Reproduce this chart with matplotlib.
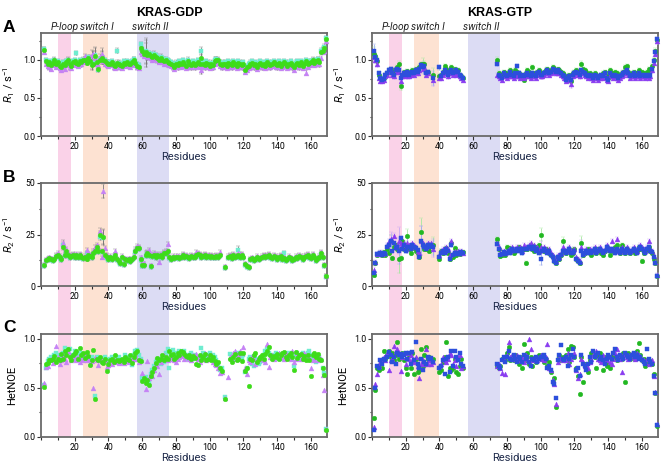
import numpy as np
import matplotlib
matplotlib.use('Agg')
import matplotlib.pyplot as plt
from matplotlib.ticker import MultipleLocator

plt.rcParams['font.family'] = ['Roboto', 'DejaVu Sans']
plt.rcParams['mathtext.fontset'] = 'custom'
plt.rcParams['mathtext.rm'] = 'Roboto'
plt.rcParams['mathtext.it'] = 'Roboto:italic'

NA = float('nan')
res = np.arange(1, 170)

# ---------------- KRAS-GDP ----------------
# R1 (s^-1): violet triangles, green circles, cyan squares
gdp_r1_v = [NA, 1.10, 0.95, 0.92, 0.90, 0.88, 0.93, 0.96, 0.91, 0.94,
            0.89, 0.87, 0.91, 0.88, 0.93, 0.96, 0.90, 0.89, 0.94, 0.95,
            0.93, 0.92, 0.95, 0.94, 0.97, 1.05, 0.98, 1.00, 1.03, 1.06,
            1.08, 1.02, 0.95, 0.93, 1.04, 1.07, 0.98, 0.95, 0.93, 0.92,
            0.93, 0.94, 0.90, 0.89, 0.93, 0.91, 0.90, 0.89, 0.93, 0.92,
            0.94, 0.92, 0.91, 0.94, 0.96, 0.93, 0.90, 0.89, 1.10, 1.08,
            1.05, 1.06, 1.03, 1.04, 1.02, 1.00, 1.03, 1.01, 0.99, 0.97,
            0.99, 0.97, 0.95, 0.96, 0.94, 0.93, 0.92, 0.90, 0.88, 0.91,
            0.90, 0.93, 0.91, 0.94, 0.92, 0.89, 0.95, 0.91, 0.90, 0.93,
            0.90, 0.92, 0.94, 0.91, 0.86, 0.92, 0.90, 0.93, 0.91, 0.89,
            0.91, 0.90, 0.95, 0.97, 0.96, 0.92, 0.90, 0.91, 0.92, 0.89,
            0.93, 0.91, 0.90, 0.94, 0.92, 0.89, 0.93, 0.91, 0.90, 0.92,
            0.84, 0.87, 0.89, 0.91, 0.93, 0.90, 0.92, 0.88, 0.91, 0.93,
            0.90, 0.92, 0.89, 0.94, 0.91, 0.90, 0.92, 0.94, 0.91, 0.90,
            0.93, 0.89, 0.91, 0.94, 0.92, 0.89, 0.91, 0.93, 0.90, 0.87,
            0.91, 0.93, 0.90, 0.94, 0.89, 0.92, 0.83, 0.91, 0.93, 0.94,
            0.96, 0.93, 0.95, 0.97, 0.94, 1.02, 1.10, 1.12, 1.24]
gdp_r1_g = [NA, 1.13, 0.98, 0.95, 0.97, 0.93, 0.96, 0.99, 0.94, 0.97,
            0.92, 0.90, 0.95, 0.93, 0.97, 0.99, 0.94, 0.92, 0.97, 0.98,
            0.96, 0.95, 0.98, 0.97, 0.99, 1.00, 0.96, 1.02, 0.98, 0.93,
            0.95, 1.05, 0.97, 0.88, 1.00, 1.02, 1.00, 0.98, 0.96, 0.94,
            0.95, 0.97, 0.93, 0.92, 0.96, 0.94, 0.93, 0.92, 0.96, 0.95,
            0.97, 0.95, 0.94, 0.97, 1.00, 0.96, 0.92, 0.91, 1.15, 1.12,
            1.08, 1.10, 1.06, 1.07, 1.05, 1.03, 1.06, 1.04, 1.02, 1.00,
            1.02, 1.00, 0.98, 0.99, 0.97, 0.96, 0.95, 0.93, 0.91, 0.94,
            0.93, 0.96, 0.94, 0.97, 0.95, 0.92, 0.98, 0.94, 0.93, 0.96,
            0.93, 0.95, 0.97, 0.94, 1.02, 0.95, 0.93, 0.96, 0.94, 0.92,
            0.94, 0.93, 0.98, 1.00, 0.99, 0.95, 0.93, 0.94, 0.95, 0.92,
            0.96, 0.94, 0.93, 0.97, 0.95, 0.92, 0.96, 0.94, 0.93, 0.95,
            0.87, 0.90, 0.92, 0.94, 0.96, 0.93, 0.95, 0.91, 0.94, 0.96,
            0.93, 0.95, 0.92, 0.97, 0.94, 0.93, 0.95, 0.97, 0.94, 0.93,
            0.96, 0.92, 0.94, 0.97, 0.95, 0.92, 0.94, 0.96, 0.93, 0.90,
            0.94, 0.96, 0.93, 0.97, 0.92, 0.95, 0.98, 0.94, 0.96, 0.97,
            0.99, 0.96, 0.98, 1.00, 0.97, 1.10, 1.12, 1.15, 1.27]
gdp_r1_c = [NA, 1.14, 0.99, 0.97, 0.98, 0.95, 0.98, 1.00, 0.96, 0.98,
            0.94, 0.92, 0.97, 0.95, 0.98, 1.00, 0.96, 0.94, 0.98, 0.99,
            1.09, 0.97, 0.99, 0.98, 1.00, 1.01, 0.97, 1.03, 0.99, 0.95,
            0.97, 1.06, 0.98, 0.87, 1.01, 1.03, 1.01, 0.99, 0.97, 0.96,
            0.97, 0.98, 0.95, 0.94, 1.12, 0.96, 0.95, 0.94, 0.98, 0.97,
            0.98, 0.97, 0.96, 0.98, 1.01, 0.98, 0.94, 0.93, 1.20, 1.14,
            1.10, 1.12, 1.08, 1.09, 1.07, 1.05, 1.08, 1.06, 1.04, 1.02,
            1.04, 1.02, 1.00, 1.01, 0.99, 0.98, 0.97, 0.95, 0.93, 0.96,
            0.95, 0.98, 0.96, 0.99, 0.97, 0.94, 1.00, 0.96, 0.95, 0.98,
            0.95, 0.97, 0.99, 0.96, 1.11, 0.97, 0.95, 0.98, 0.96, 0.94,
            0.96, 0.95, 1.00, 1.01, 1.00, 0.97, 0.95, 0.96, 0.97, 0.94,
            0.98, 0.96, 0.95, 0.98, 0.97, 0.94, 0.98, 0.96, 0.95, 0.97,
            0.89, 0.92, 0.94, 0.96, 0.98, 0.95, 0.97, 0.93, 0.96, 0.98,
            0.95, 0.97, 0.94, 0.98, 0.96, 0.95, 0.97, 0.98, 0.96, 0.95,
            0.98, 0.94, 0.96, 0.98, 0.97, 0.94, 0.96, 0.98, 0.95, 0.92,
            0.96, 0.98, 0.95, 0.98, 0.94, 0.97, 0.99, 0.96, 0.98, 0.98,
            1.00, 0.97, 0.99, 1.01, 0.98, 1.12, 1.13, 1.17, 1.28]

# R2 (s^-1)
gdp_r2_v = [NA, 10.5, 13, 13.5, 14, 13.5, 13, 13.5, 15, 16,
            14.5, 14, 21, 15.5, 18, 16, 14.5, 15, 15.5, 14.5,
            15.5, 14.5, 15.5, 15, 14, 14.5, 17.5, 15.5, 15, 14.5,
            17, 19, 20, 19, 26.5, 14, 46, 18.5, 15, 14,
            14.5, 13.5, 14.5, 17, 13.5, 12.5, 11.5, 14.5, 11, 13.5,
            13, 13.5, 12.5, 13.5, 14.5, 18, 19.5, 19, 14, 10.5,
            11, 16, 16.5, 17.5, 10, 15, 16, 14.5, 15.5, 11.5,
            15.5, 14.5, 16.5, 17, 20.5, 14.5, 13.5, 14.5, 14, 14.5,
            14.5, 14, 14.5, 15.5, 14.5, 15, 14.5, 14, 15, 14.5,
            14.5, 16.5, 16, 15.5, 14.5, 15, 15.5, 14.5, 15, 14.5,
            15, 14.5, 14.5, 15, 14.5, 16.5, NA, NA, 9.5, NA,
            14.5, 15, 14, 15.5, 14.5, 15, 16, 15.5, 15.5, 14.5,
            11, 10, 9.5, 13.5, 14, 13, 13.5, 14.5, 13.5, 14,
            14.5, 15, 14.5, 15, 15.5, 14.5, 14, 15, 14.5, 13.5,
            14.5, 15, 13.5, 14, 13, 13.5, 14.5, 14, 13, 13.5,
            14.5, 14, 15, 14.5, 13.5, 14.5, 15, 15.5, 14.5, 14,
            15.5, 14.5, 13, 14, 14.5, 16.5, 14.5, 10.5, 5]
gdp_r2_g = [NA, 10, 12.5, 13, 13.5, 13, 12.5, 13, 14.5, 15,
            14, 13, 19, 15, 17, 15, 14, 14.5, 15, 14,
            15, 14, 15, 14, 13.5, 14, 13, 15, 14.5, 14,
            16, 17, 19, 17, 25, 17, 24, 15, 14, 13,
            14, 13, 14, 15, 13, 12, 11, 14, 10.5, 13,
            12.5, 13, 12, 13, 14, 17, 18.5, 18.5, 13, 10,
            10, 15, 16, 15, 9.5, 14.5, 15, 14, 15, 14.5,
            15, 14, 16, 16, 17, 14, 13, 14, 13.5, 14,
            14, 13.5, 14, 15, 14, 14.5, 14, 13.5, 14.5, 14,
            14, 15, 15.5, 15, 14, 14.5, 15, 14, 14.5, 14,
            14.5, 14, 14, 14.5, 14, 15, NA, NA, 9, NA,
            14, 14.5, 13.5, 15, 14, 14.5, 15, 14, 15, 14,
            10.5, 9.5, 9, 13, 13.5, 12.5, 13, 14, 13, 13.5,
            14, 14.5, 14, 14.5, 15, 14, 13.5, 14.5, 14, 13,
            14, 14.5, 13, 13.5, 12.5, 13, 14, 13.5, 12.5, 13,
            14, 13.5, 14.5, 14, 13, 14, 14.5, 15, 14, 13.5,
            15, 14, 12.5, 13.5, 14, 16, 14, 10, 5]
gdp_r2_c = [NA, 9.5, 12, 12.5, 13, 12.5, 12, 12.5, 14, 14.5,
            13.5, 12.5, 20, 14.5, 16.5, 14.5, 13.5, 14, 14.5, 13.5,
            14.5, 13.5, 14.5, 13.5, 13, 13.5, 16, 14.5, 14, 13.5,
            15.5, 16.5, 18, 16.5, 24, 16.5, 23.5, 14.5, 13.5, 12.5,
            13.5, 12.5, 13.5, 14.5, 12.5, 11.5, 10.5, 13.5, 10, 12.5,
            12, 12.5, 11.5, 12.5, 13.5, 16.5, 18, 18, 12.5, 9.5,
            9.5, 14.5, 15.5, 14.5, 9, 14, 14.5, 13.5, 14.5, 14,
            14.5, 13.5, 15.5, 15.5, 16.5, 13.5, 12.5, 13.5, 13, 13.5,
            13.5, 13, 13.5, 14.5, 13.5, 14, 13.5, 13, 14, 13.5,
            13.5, 14.5, 15, 14.5, 13.5, 14, 14.5, 13.5, 14, 13.5,
            14, 13.5, 13.5, 14, 13.5, 14.5, NA, NA, 8.5, NA,
            13.5, 14, 13, 14.5, 13.5, 14, 17.5, 13.5, 14.5, 13.5,
            10, 9, 8.5, 12.5, 13, 12, 12.5, 13.5, 12.5, 13,
            13.5, 14, 13.5, 14, 14.5, 13.5, 13, 14, 13.5, 12.5,
            13.5, 14, 12.5, 16, 12, 12.5, 13.5, 13, 12, 12.5,
            13.5, 13, 14, 13.5, 12.5, 13.5, 14, 14.5, 13.5, 13,
            14.5, 13.5, 12, 13, 13.5, 15.5, 13.5, 9.5, 4.5]

# HetNOE
gdp_noe_v = [NA, 0.55, 0.71, 0.72, 0.78, 0.80, 0.75, 0.78, 0.93, 0.82,
             0.74, 0.78, 0.84, 0.80, 0.76, 0.88, 0.84, 0.78, 0.80, 0.82,
             0.78, 0.82, 0.76, 0.80, 0.78, 0.84, 0.78, 0.80, 0.75, 0.77,
             0.50, 0.81, 0.79, 0.73, 0.80, 0.78, 0.77, 0.78, 0.71, 0.73,
             0.75, 0.74, 0.80, 0.76, 0.77, 0.75, 0.76, 0.79, 0.75, 0.77,
             0.79, 0.76, 0.80, 0.78, 0.80, 0.85, 0.80, 0.76, 0.79, 0.65,
             0.58, 0.49, 0.77, 0.60, 0.65, 0.62, 0.68, 0.74, 0.72, 0.64,
             0.76, 0.82, 0.84, 0.80, 0.78, 0.80, 0.82, 0.80, 0.78, 0.76,
             0.80, 0.82, 0.84, 0.83, 0.80, 0.82, 0.84, 0.80, 0.78, 0.84,
             0.82, 0.85, 0.80, 0.76, 0.84, 0.80, 0.86, 0.78, 0.82, 0.80,
             0.84, 0.76, 0.74, 0.73, 0.70, 0.65, 0.66, NA, 0.40, NA,
             0.61, 0.82, 0.80, 0.86, 0.88, 0.80, 0.84, 0.88, 0.86, 0.92,
             0.70, 0.64, 0.78, 0.76, 0.83, 0.80, 0.74, 0.78, 0.82, 0.80,
             0.80, 0.78, 0.76, 0.95, 0.71, 0.82, 0.84, 0.80, 0.82, 0.84,
             0.86, 0.82, 0.84, 0.80, 0.86, 0.84, 0.82, 0.80, 0.88, 0.76,
             0.80, 0.86, 0.84, 0.80, 0.82, 0.86, 0.84, 0.80, 0.82, 0.70,
             0.78, 0.80, 0.84, 0.78, 0.82, 0.80, 0.63, 0.48, 0.08]
gdp_noe_g = [NA, 0.51, 0.74, 0.75, 0.79, 0.78, 0.80, 0.83, 0.76, 0.80,
             0.78, 0.85, 0.80, 0.88, 0.84, 0.90, 0.82, 0.79, 0.84, 0.86,
             0.88, 0.80, 0.91, 0.84, 0.86, 0.81, 0.87, 0.83, 0.73, 0.79,
             0.89, 0.39, 0.80, 0.78, 0.82, 0.76, 0.75, 0.80, 0.67, 0.74,
             0.78, 0.80, 0.76, 0.84, 0.79, 0.77, 0.78, 0.80, 0.76, 0.82,
             0.80, 0.78, 0.84, 0.75, 0.82, 0.86, 0.88, 0.78, 0.77, 0.57,
             0.60, 0.55, 0.58, 0.53, 0.62, 0.66, 0.70, 0.75, 0.81, 0.78,
             0.80, 0.84, 0.79, 0.82, 0.80, 0.88, 0.84, 0.85, 0.80, 0.82,
             0.86, 0.84, 0.88, 0.87, 0.85, 0.83, 0.82, 0.84, 0.80, 0.83,
             0.81, 0.74, 0.73, 0.84, 0.78, 0.82, 0.85, 0.79, 0.80, 0.84,
             0.78, 0.82, 0.77, 0.74, 0.76, 0.70, 0.67, NA, 0.39, NA,
             NA, 0.80, 0.76, 0.82, 0.85, 0.78, 0.80, 0.86, 0.77, 0.86,
             0.67, 0.70, 0.52, 0.80, 0.78, 0.84, 0.86, 0.76, 0.80, 0.82,
             0.84, 0.80, 0.85, 0.88, 0.92, 0.84, 0.80, 0.83, 0.82, 0.85,
             0.80, 0.84, 0.86, 0.87, 0.82, 0.80, 0.84, 0.86, 0.82, 0.68,
             0.87, 0.81, 0.84, 0.85, 0.80, 0.83, 0.79, 0.84, 0.78, 0.62,
             0.84, 0.86, 0.82, 0.85, 0.80, 0.79, 0.70, 0.63, 0.07]
gdp_noe_c = [NA, 0.53, 0.70, 0.77, 0.80, 0.82, 0.79, 0.84, 0.86, 0.84,
             0.80, 0.82, 0.86, 0.91, 0.88, 0.86, 0.90, 0.84, 0.82, 0.88,
             0.84, 0.80, 0.86, 0.85, 0.82, 0.80, 0.84, 0.80, 0.78, 0.82,
             0.80, 0.42, 0.82, 0.80, 0.78, 0.76, 0.80, 0.82, 0.79, 0.78,
             0.80, 0.82, 0.78, 0.77, 0.80, 0.82, 0.78, 0.77, 0.79, 0.84,
             0.82, 0.80, 0.78, 0.73, 0.84, 0.88, 0.89, 0.84, 0.80, 0.60,
             0.58, 0.61, 0.55, 0.56, 0.64, 0.68, 0.72, 0.76, 0.78, 0.80,
             0.74, 0.78, 0.76, 0.86, 0.90, 0.70, 0.84, 0.89, 0.82, 0.86,
             0.84, 0.88, 0.86, 0.85, 0.88, 0.80, 0.84, 0.82, 0.86, 0.80,
             0.84, 0.82, 0.80, 0.78, 0.91, 0.86, 0.80, 0.82, 0.84, 0.86,
             0.80, 0.84, 0.82, 0.78, 0.74, 0.68, 0.70, NA, 0.41, NA,
             NA, 0.85, 0.82, 0.78, 0.84, 0.86, 0.82, 0.84, 0.80, 0.84,
             0.66, 0.70, 0.80, 0.82, 0.74, 0.72, 0.78, 0.80, 0.74, 0.76,
             0.82, 0.84, 0.88, 0.90, 0.86, 0.84, 0.82, 0.84, 0.86, 0.80,
             0.84, 0.82, 0.80, 0.84, 0.82, 0.85, 0.86, 0.82, 0.80, 0.72,
             0.84, 0.86, 0.82, 0.80, 0.86, 0.84, 0.82, 0.86, 0.88, 0.84,
             0.82, 0.80, 0.76, 0.80, 0.82, 0.78, 0.70, 0.65, 0.08]

# ---------------- KRAS-GTP ----------------
# violet triangles, green circles, blue squares; residues 55-73 not observed
gtp_r1_v = [1.04, 1.00, 0.94, 0.76, 0.72, 0.72, 0.74, 0.78, 0.80, 0.84,
            0.86, 0.80, 0.78, 0.84, 0.86, 0.84, 0.72, 0.78, 0.80, 0.78,
            0.82, 0.78, 0.80, 0.82, 0.80, 0.84, 0.82, 0.86, 0.92, 0.88,
            0.90, 0.80, 0.82, NA, NA, 0.74, NA, NA, NA, 0.76,
            0.76, 0.80, 0.84, 0.82, 0.78, 0.82, 0.84, 0.80, 0.82, 0.80,
            0.82, 0.78, 0.76, 0.74] + [NA] * 19 + [
            0.80, 0.78, 0.76, 0.74, 0.80, 0.78, 0.76,
            0.78, 0.82, 0.78, 0.76, 0.80, 0.78, 0.80, 0.76, 0.78, 0.76,
            0.78, 0.80, 0.78, 0.76, 0.80, 0.78, 0.76, 0.80, 0.82, 0.78,
            0.78, 0.80, 0.82, 0.84, 0.80, 0.82, 0.86, 0.84, 0.82, 0.84,
            0.82, 0.80, 0.78, 0.76, 0.72, 0.74, 0.76, 0.68, 0.78, 0.80,
            0.82, 0.80, 0.78, 0.84, 0.82, 0.80, 0.78, 0.76, 0.78, 0.76,
            0.74, 0.78, 0.76, 0.74, 0.76, 0.78, 0.76, 0.80, 0.74, 0.72,
            0.80, 0.78, 0.76, 0.78, 0.76, 0.74, 0.76, 0.78, 0.80, 0.82,
            0.84, 0.80, 0.76, 0.78, 0.80, 0.76, 0.78, 0.80, 0.76, 0.78,
            0.78, 0.76, 0.78, 0.76, 0.78, 0.86, 0.96, 1.08, 1.24]
gtp_r1_g = [1.08, 1.05, 0.98, 0.80, 0.76, 0.74, 0.76, 0.80, 0.82, 0.86,
            0.88, 0.84, 0.82, 0.88, 0.90, 0.95, 0.65, 0.80, 0.84, 0.82,
            0.85, 0.80, 0.83, 0.86, 0.84, 0.88, 0.86, 0.90, 0.94, 0.95,
            0.95, 0.84, 0.84, NA, NA, 0.80, NA, NA, NA, 0.78,
            0.80, 0.84, 0.92, 0.88, 0.82, 0.86, 0.90, 0.84, 0.88, 0.84,
            0.86, 0.80, 0.78, 0.76] + [NA] * 19 + [
            1.00, 0.82, 0.80, 0.78, 0.84, 0.82, 0.80,
            0.84, 0.86, 0.82, 0.80, 0.86, 0.84, 0.82, 0.78, 0.80, 0.74,
            0.82, 0.86, 0.84, 0.80, 0.90, 0.82, 0.80, 0.84, 0.86, 0.82,
            0.80, 0.84, 0.86, 0.88, 0.84, 0.86, 0.90, 0.88, 0.86, 0.88,
            0.86, 0.84, 0.82, 0.80, 0.76, 0.78, 0.80, 0.72, 0.82, 0.84,
            0.86, 0.84, 0.82, 0.95, 0.88, 0.86, 0.84, 0.80, 0.82, 0.80,
            0.78, 0.82, 0.80, 0.76, 0.78, 0.80, 0.82, 0.84, 0.78, 0.76,
            0.86, 0.82, 0.80, 0.84, 0.82, 0.78, 0.80, 0.82, 0.84, 0.90,
            0.92, 0.84, 0.80, 0.82, 0.84, 0.80, 0.82, 0.86, 0.80, 0.84,
            0.82, 0.80, 0.84, 0.88, 0.86, 0.92, 1.00, 1.12, 1.26]
gtp_r1_b = [1.12, 1.03, 1.00, 0.82, 0.76, 0.74, 0.75, 0.80, 0.82, 0.86,
            0.88, 0.82, 0.80, 0.86, 0.88, 0.86, 0.76, 0.80, 0.82, 0.80,
            0.84, 0.80, 0.82, 0.84, 0.82, 0.86, 0.84, 0.88, 0.93, 0.90,
            0.92, 0.82, 0.84, NA, NA, 0.76, NA, NA, NA, 0.90,
            0.78, 0.82, 0.86, 0.84, 0.80, 0.84, 0.86, 0.82, 0.84, 0.86,
            0.84, 0.80, 0.78, 0.76] + [NA] * 19 + [
            0.95, 0.80, 0.78, 0.76, 0.82, 0.80, 0.78,
            0.80, 0.84, 0.80, 0.78, 0.82, 0.92, 0.82, 0.78, 0.80, 0.78,
            0.80, 0.82, 0.80, 0.78, 0.82, 0.80, 0.78, 0.82, 0.84, 0.80,
            0.80, 0.82, 0.84, 0.86, 0.82, 0.84, 0.88, 0.86, 0.84, 0.86,
            0.84, 0.82, 0.80, 0.78, 0.74, 0.76, 0.78, 0.74, 0.80, 0.82,
            0.84, 0.82, 0.80, 0.86, 0.84, 0.82, 0.80, 0.78, 0.80, 0.78,
            0.76, 0.80, 0.78, 0.76, 0.78, 0.80, 0.78, 0.82, 0.76, 0.74,
            0.82, 0.80, 0.78, 0.80, 0.78, 0.76, 0.78, 0.80, 0.82, 0.84,
            0.86, 0.82, 0.78, 0.80, 0.82, 0.78, 0.80, 0.82, 0.78, 0.80,
            0.80, 0.78, 0.80, 0.78, 0.80, 0.88, 0.98, 1.10, 1.27]

gtp_r2_v = [8, 11.5, 15.5, 16, 16.5, 15.5, 16, 16, 20, 22,
            23, 22, 24.5, 19, 20, 22, 21, 20, 21, 18,
            21, 20, 19, 21, 20, 19, 17, 16, 22, 21,
            20, 19, 21, 20, 21, 18, NA, NA, NA, 15,
            17, 18, 17, 19, 18, 15, 22, 16, 17, 16,
            17, 16, 17, 16] + [NA] * 19 + [
            21, 19, 16, 16, 17, 16, 17,
            18, 17, 19, 18, 18, 19, 18, 19, 17, 20,
            19, 19, 20, 21, 19, 20, 18, 19, 17, 19,
            18, 19, 18, 17, 18, 16, 15, 13, 12, 15,
            14, 16, 19, 18, 17, 18, 19, 17, 17, 18,
            14, 13, 12, 19, 16, 17, 18, 17, 18, 17,
            18, 19, 17, 18, 19, 18, 17, 18, 20, 19,
            18, 22, 18, 17, 23, 18, 17, 19, 18, 17,
            19, 18, 17, 18, 19, 18, 17, 19, 20, 19,
            18, 17, 19, 22, 18, 17, 14.5, 11.5, 5.5]
gtp_r2_g = [5.5, 11, 15, 15.5, 16, 15, 16.5, 15, 18, 16,
            22, 13.5, 19, 20, 18, 13, 13.5, 22, 18, 20,
            24.5, 18, 16, 19, 18.5, 17, 16, 14, 26, 20,
            18, 18, 18, 17, 20, 20, NA, NA, NA, 13,
            17, 16, 18, 18.5, 16, 13, 21, 14, 18.5, 15,
            16, 15.5, 16, 16.5] + [NA] * 19 + [
            23, 18, 14.5, 15, 16, 15, 19,
            18.5, 17, 18, 16, 17, 18, 19, 18, 17.5, 18,
            11, 18, 19, 20, 18, 17, 19, 18, 20, 25,
            18, 17, 18, 17, 16, 15, 14, 12, 11, 14,
            13, 15, 22, 17, 16, 17, 18, 15, 16, 18,
            13, 12, 11, 21, 15, 16, 17, 18, 16, 15,
            17, 18, 16, 18, 17, 16, 15, 17, 19, 18,
            15, 18, 17, 19, 20, 17, 16, 20, 17, 16,
            18, 17, 16, 17, 18, 16, 17, 19, 18, 12,
            16, 17, 18, 19, 17, 16, 13, 11, 5]
gtp_r2_b = [6.5, 11, 15.5, 15.5, 16, 15, 16, 15.5, 19, 20,
            22, 17, 21, 18.5, 19, 17, 23.5, 18, 20, 17,
            19, 19, 18, 20, 19, 18.5, 17.5, 14, 22, 20,
            19, 18, 20, 19, 20, 19, NA, NA, NA, 14,
            16, 17, 16, 18, 17, 13, 20, 15, 16, 15.5,
            16, 15.5, 16.5, 16] + [NA] * 19 + [
            20.5, 18, 15, 15.5, 16.5, 15.5, 16,
            17, 16, 18, 17, 17, 18, 17, 18, 16, 18,
            18, 18, 19, 19, 18, 19, 17, 18, 16, 13,
            17, 18, 17, 16, 17, 15, 14, 12, 11, 14,
            13, 15, 17, 17, 16, 17, 18, 16, 16, 17,
            13, 12, 11, 17, 15, 16, 17, 16, 17, 16,
            17, 18, 16, 17, 18, 17, 16, 17, 19, 18,
            17, 18, 17, 16, 18, 17, 16, 18, 17, 16,
            18, 17, 16, 17, 18, 17, 16, 18, 19, 18,
            17, 16, 18, 19, 17, 16.5, 14, 11, 5]

gtp_noe_v = [0.10, 0.54, 0.64, 0.72, 0.76, 0.80, 0.82, 0.78, 0.86, 0.68,
             0.78, 0.80, 0.93, 0.88, 0.90, 0.86, 0.67, 0.82, 0.86, 0.74,
             0.86, 0.80, 0.84, 0.78, 0.76, 0.82, 0.72, 0.60, 0.74, 0.78,
             0.74, 0.90, 0.74, 0.78, 0.74, 0.76, NA, NA, NA, 0.72,
             0.74, 0.82, 0.78, 0.76, 0.80, 0.86, 0.84, 0.74, 0.78, 0.72,
             0.82, 0.84, 0.70, 0.72] + [NA] * 19 + [
             0.72, 0.74, 0.70, 0.65, 0.80, 0.64, 0.84,
             0.97, 0.82, 0.84, 0.80, 0.82, 0.84, 0.78, 0.80, 0.82, 0.76,
             0.84, 0.80, 1.00, 0.90, 0.78, 0.82, 0.80, 0.78, 0.82, 0.84,
             0.80, 0.78, 0.82, 0.95, 0.70, 0.68, 0.58, 0.54, 0.34, 0.76,
             0.82, 0.80, 0.78, 0.80, 0.78, 0.86, 0.74, 0.80, 0.84, 0.86,
             0.68, 0.60, 0.64, 0.80, 0.76, 0.72, 0.74, 0.70, 0.76, 0.80,
             0.84, 0.86, 0.88, 0.80, 0.78, 0.76, 0.84, 0.80, 0.78, 0.82,
             0.76, 0.74, 0.80, 0.86, 0.90, 0.84, 0.80, 0.66, 0.84, 0.86,
             0.82, 0.80, 0.84, 0.86, 0.82, 0.80, 0.86, 0.84, 0.82, 0.80,
             0.78, 0.76, 0.80, 0.74, 0.76, 0.78, 0.62, 0.46, 0.13]
gtp_noe_g = [0.19, 0.48, 0.70, 0.68, 0.78, 0.70, 0.88, 0.80, 0.84, 0.88,
             0.82, 0.86, 0.78, 0.84, 0.97, 0.80, 0.85, 0.86, 0.78, 0.70,
             0.64, 0.84, 0.70, 0.86, 0.64, 0.80, 0.66, 0.68, 0.90, 0.72,
             0.84, 0.92, 0.80, 0.82, 0.78, 0.80, NA, NA, NA, 0.66,
             0.68, 0.76, 0.82, 0.97, 0.62, 0.70, 0.68, 0.70, 0.80, 0.66,
             0.64, 0.72, 0.80, 0.70] + [NA] * 19 + [
             0.72, 0.70, 0.72, 0.80, 0.82, 0.78, 0.86,
             0.92, 0.78, 0.82, 0.78, 0.84, 0.80, 0.74, 0.82, 0.70, 0.95,
             0.78, 0.86, 0.74, 0.82, 0.72, 0.78, 0.76, 0.82, 0.84, 0.80,
             0.84, 0.76, 0.80, 0.72, 0.76, 0.66, 0.56, 0.60, 0.31, 0.80,
             0.84, 0.78, 0.82, 0.80, 0.84, 0.90, 0.76, 0.93, 0.92, 0.82,
             0.70, 0.62, 0.44, 0.82, 0.56, 0.74, 0.70, 0.66, 0.78, 0.86,
             0.86, 0.82, 0.70, 0.84, 0.86, 0.80, 0.68, 0.82, 0.72, 0.74,
             0.70, 0.80, 0.84, 0.82, 0.78, 0.82, 0.84, 0.80, 0.86, 0.56,
             0.84, 0.86, 0.80, 0.82, 0.86, 0.80, 0.88, 0.96, 0.84, 0.78,
             0.80, 0.72, 0.74, 0.78, 0.76, 0.74, 0.64, 0.45, 0.11]
gtp_noe_b = [0.07, 0.50, 0.72, 0.70, 0.78, 0.74, 0.80, 0.78, 0.82, 0.87,
             0.84, 0.76, 0.82, 0.74, 0.86, 0.84, 0.85, 0.82, 0.84, 0.86,
             0.80, 0.86, 0.74, 0.87, 0.78, 0.97, 0.74, 0.70, 0.80, 0.68,
             0.76, 0.74, 0.82, 0.80, 0.81, 0.76, NA, NA, NA, 0.70,
             0.72, 0.78, 0.64, 0.80, 0.82, 0.66, 0.88, 0.72, 0.88, 0.82,
             0.78, 0.86, 0.74, 0.72] + [NA] * 19 + [
             0.74, 0.72, 0.70, 0.78, 0.82, 0.76, 0.82,
             0.88, 0.80, 0.78, 0.84, 0.80, 0.76, 0.82, 0.80, 0.76, 0.84,
             0.80, 0.82, 0.76, 0.72, 0.80, 0.78, 0.82, 0.76, 0.80, 0.82,
             0.82, 0.84, 0.80, 0.70, 0.72, 0.68, 0.56, 0.54, 0.40, 0.78,
             0.84, 0.94, 0.80, 0.78, 0.82, 0.72, 0.80, 0.84, 0.90, 0.82,
             0.68, 0.70, 0.62, 0.84, 0.74, 0.72, 0.68, 0.74, 0.82, 0.76,
             0.88, 0.82, 0.84, 0.86, 0.80, 0.82, 0.78, 0.74, 0.80, 0.84,
             0.82, 0.80, 0.86, 0.90, 0.82, 0.78, 0.84, 0.82, 0.80, 0.86,
             0.84, 0.82, 0.80, 0.84, 0.86, 0.82, 0.84, 0.80, 0.82, 0.78,
             0.76, 0.74, 0.90, 0.80, 0.76, 0.74, 0.62, 0.45, 0.12]

# error bars: typical size per panel, plus the few large ones {residue: err}
gdp_r1_err, gdp_r1_big = 0.03, {30: 0.07, 32: 0.1, 36: 0.08, 62: 0.16, 95: 0.05}
gdp_r2_err, gdp_r2_big = 0.8, {13: 1.5, 35: 1.5, 37: 3.5, 117: 2.0}
gtp_r1_err, gtp_r1_big = 0.03, {1: 0.08, 17: 0.05, 30: 0.07, 36: 0.09, 118: 0.05}
gtp_r2_err, gtp_r2_big = 1.0, {11: 3, 16: 6.5, 21: 3, 29: 7, 36: 4, 100: 3, 113: 2, 124: 3.5}

# highlighted regions (residue ranges)
regions = [('P-loop', 10, 18, '#fad2e8'), ('switch I', 25, 40, '#fde2d2'),
           ('switch II', 57, 76, '#dcdcf4')]
label_x = [14, 33, 65]

gdp_cols = {'v': '#c582f5', 'g': '#3ddc1a', 'c': '#70ecd0'}
gtp_cols = {'v': '#8a3cf0', 'g': '#22b822', 'b': '#2c4fdc'}
gtp_ecols = {'v': '#c9a8f5', 'g': '#a6e8a0', 'b': '#9fb0ee'}
msize = {'o': 3.3, 's': 2.9, '^': 3.5}

for arr in [gdp_r1_v, gdp_r1_g, gdp_r1_c, gdp_r2_v, gdp_r2_g, gdp_r2_c,
            gdp_noe_v, gdp_noe_g, gdp_noe_c, gtp_r1_v, gtp_r1_g, gtp_r1_b,
            gtp_r2_v, gtp_r2_g, gtp_r2_b, gtp_noe_v, gtp_noe_g, gtp_noe_b]:
    assert len(arr) == 169, len(arr)

W, H = 661, 462
fig = plt.figure(figsize=(W / 100, H / 100), dpi=100)

xlim = (0, 169.5)
col_x = [41, 372]
col_w = 286
row_top = [33, 183, 334]
row_h = 103


def frac(x, ytop, w, h):
    return [x / W, 1 - (ytop + h) / H, w / W, h / H]


def series(ax, vals, color, marker, ecolor=None, err=None, big=None):
    y = np.array(vals, float)
    kw = dict(ls='none', marker=marker, ms=msize[marker], mfc=color, mec=color,
              mew=0.3, clip_on=False, zorder=3)
    if err is None:
        ax.plot(res, y, **kw)
    else:
        e = np.full(len(y), err)
        for k, v in big.items():
            e[k - 1] = v
        ax.errorbar(res, y, yerr=e, ecolor=ecolor, elinewidth=0.6, capsize=1.2,
                    capthick=0.6, **kw)


def style(ax, ylim, major, ylabel, fmt):
    ax.set_xlim(*xlim)
    ax.set_ylim(*ylim)
    ax.set_facecolor('none')
    ax.xaxis.set_major_locator(MultipleLocator(20))
    ax.xaxis.set_minor_locator(MultipleLocator(10))
    ax.yaxis.set_major_locator(MultipleLocator(major))
    ax.yaxis.set_minor_locator(MultipleLocator(major / 2))
    ax.set_xticks([20, 40, 60, 80, 100, 120, 140, 160])
    ax.yaxis.set_major_formatter(plt.FormatStrFormatter(fmt))
    ax.tick_params(which='both', direction='out', color='#333333', width=0.8,
                   labelsize=6.3, pad=1.2)
    ax.tick_params(which='major', length=3)
    ax.tick_params(which='minor', length=1.8)
    for s in ax.spines.values():
        s.set_color('#6a6a6a')
        s.set_linewidth(1.3)
    ax.set_ylabel(ylabel, fontsize=8)
    ax.yaxis.set_label_coords(-0.085, 0.5)
    ax.set_xlabel('Residues', fontsize=8, color='#1e2a4a', labelpad=0.5)


panels = [
    # (column, row, series list, ylim, major, ylabel, fmt, err, big)
    (0, 0, [(gdp_r1_c, 'c', 's'), (gdp_r1_v, 'v', '^'), (gdp_r1_g, 'g', 'o')],
     (0, 1.35), 0.5, r'$\mathit{R}_1$ / s$^{-1}$', '%.1f', gdp_r1_err, gdp_r1_big),
    (0, 1, [(gdp_r2_c, 'c', 's'), (gdp_r2_v, 'v', '^'), (gdp_r2_g, 'g', 'o')],
     (0, 50), 25, r'$\mathit{R}_2$ / s$^{-1}$', '%d', gdp_r2_err, gdp_r2_big),
    (0, 2, [(gdp_noe_c, 'c', 's'), (gdp_noe_v, 'v', '^'), (gdp_noe_g, 'g', 'o')],
     (0, 1.05), 0.5, 'HetNOE', '%.1f', None, None),
    (1, 0, [(gtp_r1_g, 'g', 'o'), (gtp_r1_v, 'v', '^'), (gtp_r1_b, 'b', 's')],
     (0, 1.35), 0.5, r'$\mathit{R}_1$ / s$^{-1}$', '%.1f', gtp_r1_err, gtp_r1_big),
    (1, 1, [(gtp_r2_g, 'g', 'o'), (gtp_r2_v, 'v', '^'), (gtp_r2_b, 'b', 's')],
     (0, 50), 25, r'$\mathit{R}_2$ / s$^{-1}$', '%d', gtp_r2_err, gtp_r2_big),
    (1, 2, [(gtp_noe_g, 'g', 'o'), (gtp_noe_v, 'v', '^'), (gtp_noe_b, 'b', 's')],
     (0, 1.05), 0.5, 'HetNOE', '%.1f', None, None),
]

# shaded background spanning the whole column
for c in range(2):
    bg = fig.add_axes(frac(col_x[c], row_top[0], col_w, row_top[2] + row_h - row_top[0]),
                      zorder=0)
    bg.set_xlim(*xlim)
    bg.set_ylim(0, 1)
    bg.axis('off')
    for (name, a, b, colr), lx in zip(regions, label_x):
        bg.axvspan(a, b, color=colr, lw=0)
        bg.text(lx, 1.016, name, style='italic', fontsize=7.3, ha='center',
                va='center', color='#222222', transform=bg.get_xaxis_transform())

for c, r, sers, ylim, major, ylab, fmt, err, big in panels:
    ax = fig.add_axes(frac(col_x[c], row_top[r], col_w, row_h), zorder=2)
    for vals, key, mk in sers:
        if c == 0:
            series(ax, vals, gdp_cols[key], mk, '#7a7a7a', err, big)
        else:
            series(ax, vals, gtp_cols[key], mk, gtp_ecols[key], err, big)
    style(ax, ylim, major, ylab, fmt)

fig.text(169 / W, 1 - 13 / H, 'KRAS-GDP', fontsize=9, fontweight='bold',
         ha='center', va='center', family='Liberation Sans')
fig.text(500 / W, 1 - 13 / H, 'KRAS-GTP', fontsize=9, fontweight='bold',
         ha='center', va='center', family='Liberation Sans')
for lab, yy in zip(['A', 'B', 'C'], [28, 177, 327]):
    fig.text(3 / W, 1 - yy / H, lab, fontsize=12.5, fontweight='bold',
             ha='left', va='center', family='Liberation Sans')

fig.savefig('out.png', dpi=100)
